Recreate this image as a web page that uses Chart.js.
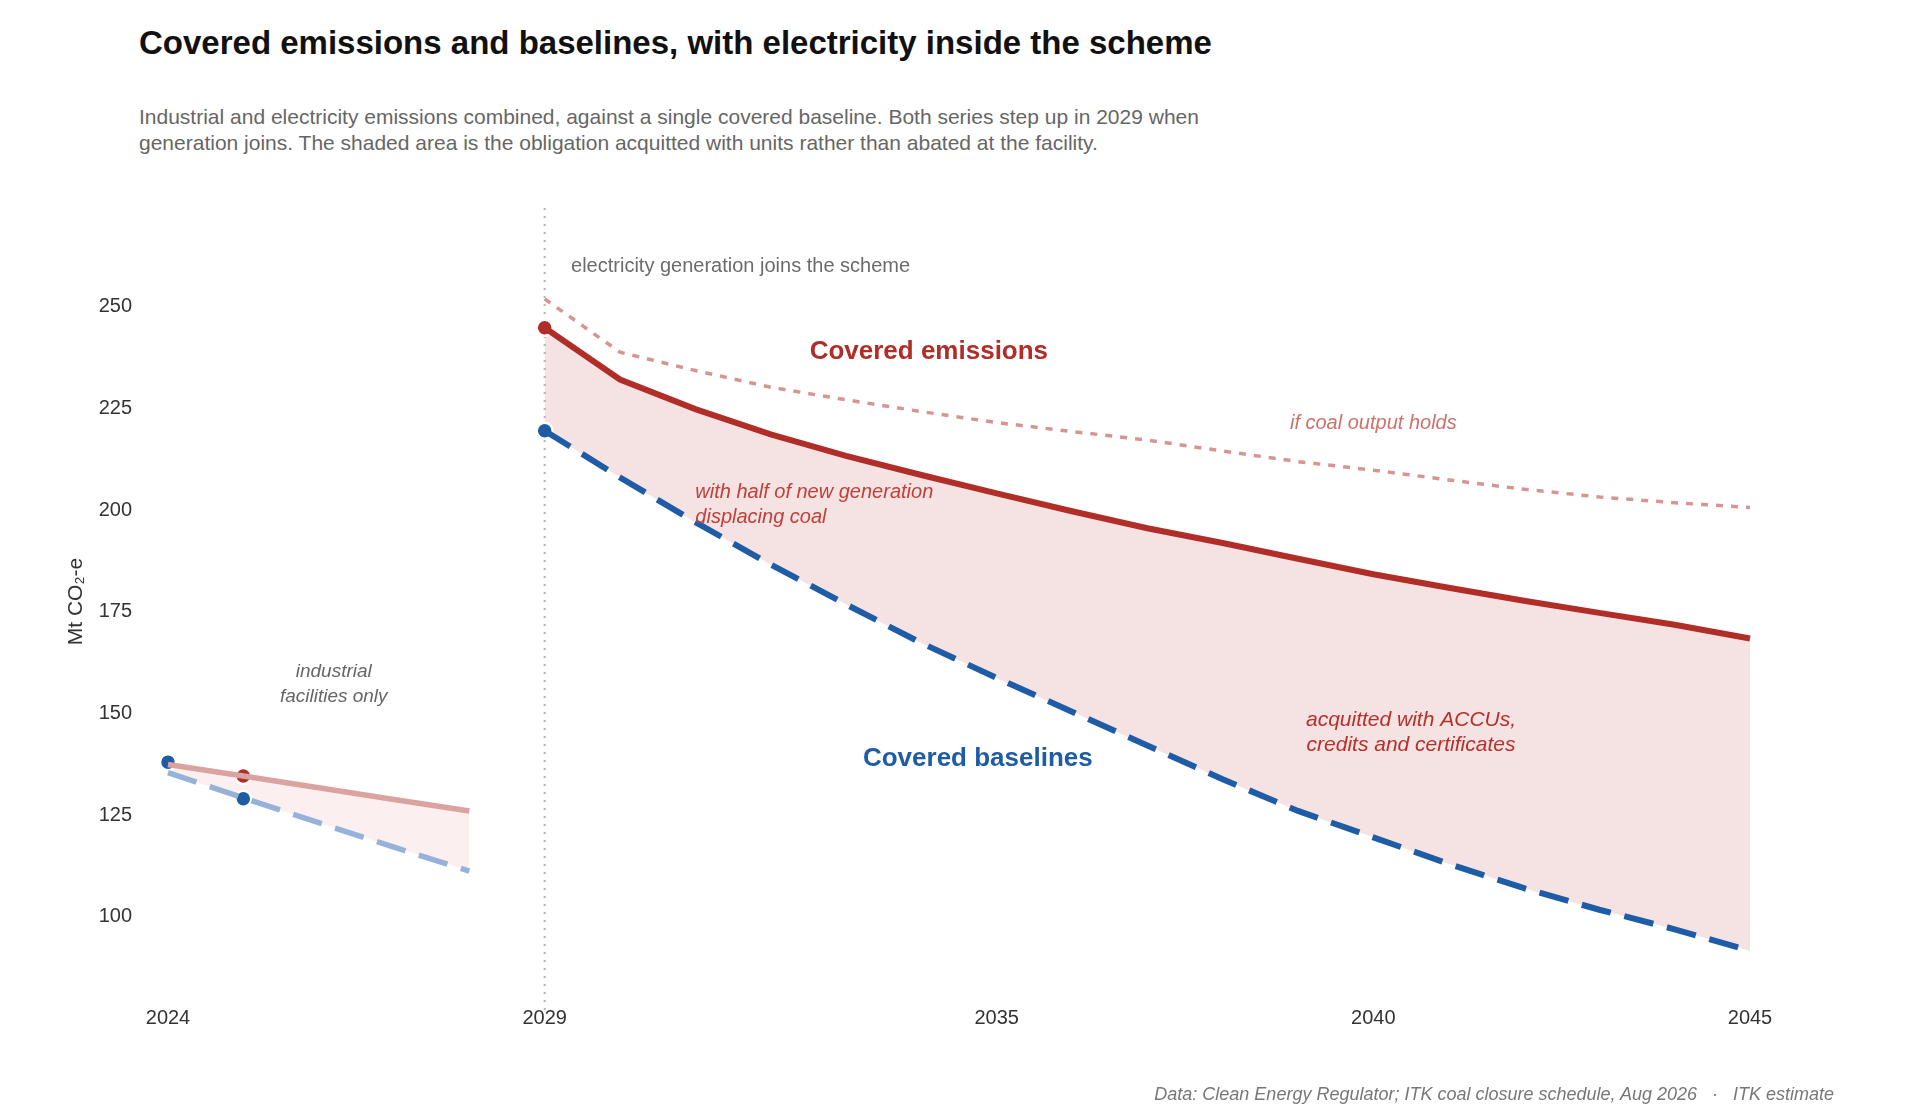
<!DOCTYPE html>
<html>
<head>
<meta charset="utf-8">
<script src="https://cdn.jsdelivr.net/npm/chart.js@4.4.1/dist/chart.umd.min.js"></script>
<style>
  body { margin: 0; background: #fff; font-family: "Liberation Sans", Arial, sans-serif; }
  #wrap { position: relative; width: 1920px; height: 1110px; overflow: hidden; }
  #title { position: absolute; left: 139px; top: 24px; font-size: 33px; font-weight: bold; color: #111; line-height: 38px; }
  #subtitle { position: absolute; left: 139px; top: 104px; font-size: 21px; color: #666; line-height: 26px; }
  #footer { position: absolute; right: 86px; top: 1084px; font-size: 18px; font-style: italic; color: #777; }
  canvas { position: absolute; left: 0; top: 0; }
</style>
</head>
<body>
<div id="wrap">
  <div id="title">Covered emissions and baselines, with electricity inside the scheme</div>
  <div id="subtitle">Industrial and electricity emissions combined, against a single covered baseline. Both series step up in 2029 when<br>generation joins. The shaded area is the obligation acquitted with units rather than abated at the facility.</div>
  <canvas id="chart" width="1920" height="1110"></canvas>
  <div id="footer">Data: Clean Energy Regulator; ITK coal closure schedule, Aug 2026 &nbsp;&nbsp;·&nbsp;&nbsp; ITK estimate</div>
</div>
<script>
// Industrial-only period
const earlyYears = [2024, 2025, 2026, 2027, 2028];
const earlyEmissions = [137.4, 134.6, 131.7, 128.8, 126.0];
const earlyBaseline = [135.4, 129.2, 123.1, 117.1, 111.2];

// Electricity inside the scheme
const years = [2029, 2030, 2031, 2032, 2033, 2034, 2035, 2036, 2037, 2038, 2039, 2040, 2041, 2042, 2043, 2044, 2045];
const emissions = [244.8, 232.1, 224.8, 218.6, 213.3, 208.6, 204.1, 199.7, 195.5, 191.9, 188.0, 184.2, 180.9, 177.7, 174.7, 171.8, 168.4];
const coalHolds = [251.9, 238.8, 234.3, 230.2, 227.1, 224.2, 221.5, 219.3, 217.2, 214.5, 211.9, 209.8, 207.4, 205.1, 203.2, 201.8, 200.6];
const baseline = [219.5, 208.0, 197.0, 186.6, 176.8, 167.3, 158.7, 150.4, 142.1, 133.8, 126.0, 119.5, 113.0, 107.0, 101.7, 96.9, 91.6];

// Reported points
const markerYears = [2024, 2025, 2025, 2029, 2029];
const markerValues = [138.0, 134.6, 129.0, 244.8, 219.5];
const markerSeries = ["baseline", "emissions", "baseline", "emissions", "baseline"];

const xTicks = [2024, 2029, 2035, 2040, 2045];
const yTicks = [100, 125, 150, 175, 200, 225, 250];

const RED = "#b12d27";
const BLUE = "#1f5ca6";
const FONT = "'Liberation Sans', Arial, sans-serif";

const pts = (xs, ys) => xs.map((x, i) => ({ x: x, y: ys[i] }));

// text annotations, anchored in data coordinates
const notes = [
  { x: 2029.35, y: 259.8, lines: ["electricity generation joins the scheme"], align: "left", color: "#6b6b6b", font: "20px" },
  { x: 2034.1, y: 238.9, lines: ["Covered emissions"], align: "center", color: RED, font: "bold 26px" },
  { x: 2040.0, y: 221.4, lines: ["if coal output holds"], align: "center", color: "#cd716c", font: "italic 20px" },
  { x: 2031.0, y: 204.2, lines: ["with half of new generation", "displacing coal"], align: "left", color: "#c0403a", font: "italic 20px" },
  { x: 2034.75, y: 138.8, lines: ["Covered baselines"], align: "center", color: BLUE, font: "bold 26px" },
  { x: 2040.5, y: 148.4, lines: ["acquitted with ACCUs,", "credits and certificates"], align: "center", color: "#b8302a", font: "italic 21px" },
  { x: 2026.2, y: 160.2, lines: ["industrial", "facilities only"], align: "center", color: "#666", font: "italic 19px" }
];

const annotate = {
  id: "annotate",
  beforeDatasetsDraw(chart) {
    const { ctx, chartArea, scales } = chart;
    const x = scales.x.getPixelForValue(2029);
    ctx.save();
    ctx.strokeStyle = "#b5b5b5";
    ctx.lineWidth = 2;
    ctx.setLineDash([2, 6]);
    ctx.beginPath();
    ctx.moveTo(x, chartArea.top + 3);
    ctx.lineTo(x, chartArea.bottom + 12);
    ctx.stroke();
    ctx.restore();
  },
  afterDatasetsDraw(chart) {
    const { ctx, scales } = chart;
    ctx.save();
    ctx.textBaseline = "middle";
    notes.forEach(n => {
      ctx.font = n.font + " " + FONT;
      ctx.fillStyle = n.color;
      ctx.textAlign = n.align;
      const px = scales.x.getPixelForValue(n.x);
      const py = scales.y.getPixelForValue(n.y);
      n.lines.forEach((t, i) => ctx.fillText(t, px, py + i * 25));
    });
    ctx.restore();
  }
};

new Chart(document.getElementById("chart"), {
  type: "line",
  data: {
    datasets: [
      {
        label: "Covered emissions (industrial)",
        data: pts(earlyYears, earlyEmissions),
        borderColor: "#dba3a0",
        borderWidth: 5.5,
        fill: 1,
        backgroundColor: "#fbf0ef"
      },
      {
        label: "Covered baselines (industrial)",
        data: pts(earlyYears, earlyBaseline),
        borderColor: "#97b2d8",
        borderWidth: 5.5,
        borderDash: [30, 14],
        fill: false
      },
      {
        label: "If coal output holds",
        data: pts(years, coalHolds),
        borderColor: "#d69591",
        borderWidth: 3.5,
        borderDash: [7, 8],
        fill: false
      },
      {
        label: "Covered emissions",
        data: pts(years, emissions),
        borderColor: RED,
        borderWidth: 6,
        fill: 4,
        backgroundColor: "#f5e2e3"
      },
      {
        label: "Covered baselines",
        data: pts(years, baseline),
        borderColor: BLUE,
        borderWidth: 6,
        borderDash: [30, 14],
        fill: false
      },
      {
        type: "scatter",
        label: "Reported",
        data: pts(markerYears, markerValues),
        pointRadius: 8,
        pointBorderWidth: 2.5,
        pointBorderColor: "#fff",
        pointBackgroundColor: markerSeries.map(s => s === "emissions" ? RED : BLUE),
        showLine: false
      }
    ]
  },
  options: {
    responsive: false,
    animation: false,
    clip: false,
    elements: { point: { radius: 0 }, line: { tension: 0, borderCapStyle: "butt" } },
    layout: { padding: { top: 205, right: 170, bottom: 72, left: 0 } },
    plugins: {
      legend: { display: false },
      tooltip: { enabled: false },
      filler: { drawTime: "beforeDatasetsDraw" }
    },
    scales: {
      x: {
        type: "linear",
        min: 2024,
        max: 2045,
        grid: { display: false, drawTicks: false },
        border: { display: false },
        afterBuildTicks: s => { s.ticks = xTicks.map(v => ({ value: v })); },
        afterFit: s => { s.height = 40; },
        ticks: { padding: 8, color: "#333", font: { family: FONT, size: 20 }, callback: v => String(v) }
      },
      y: {
        min: 80,
        max: 275,
        grid: { display: false, drawTicks: false },
        border: { display: false },
        afterBuildTicks: s => { s.ticks = yTicks.map(v => ({ value: v })); },
        afterFit: s => { s.width = 168; },
        ticks: { padding: 36, color: "#333", font: { family: FONT, size: 20 } },
        title: { display: false }
      }
    }
  },
  plugins: [annotate, {
    id: "yTitle",
    afterDraw(chart) {
      const { ctx, scales } = chart;
      ctx.save();
      ctx.translate(76, scales.y.getPixelForValue(177.5));
      ctx.rotate(-Math.PI / 2);
      ctx.font = "21px " + FONT;
      ctx.fillStyle = "#333";
      ctx.textAlign = "center";
      ctx.textBaseline = "middle";
      ctx.fillText("Mt CO₂-e", 0, 0);
      ctx.restore();
    }
  }]
});
</script>
</body>
</html>
